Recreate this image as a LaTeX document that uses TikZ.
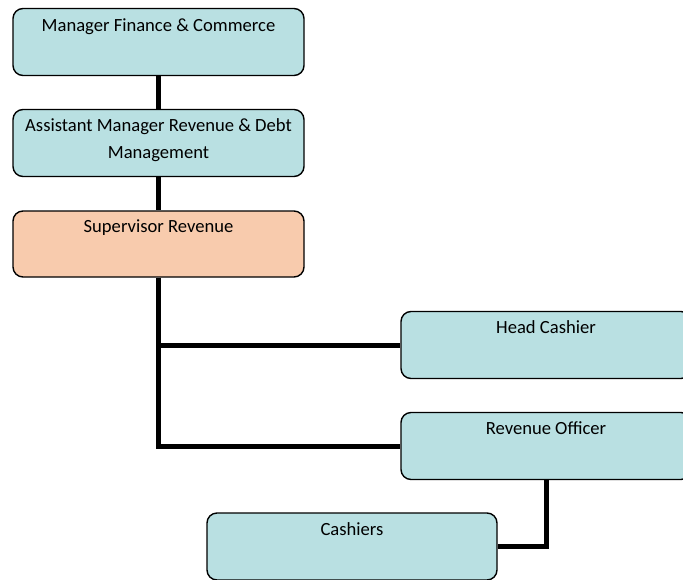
\documentclass[tikz,border=0pt]{standalone}
\usepackage{fontspec}
\setmainfont{Carlito}
\definecolor{boxblue}{HTML}{B9E0E2}
\definecolor{boxorange}{HTML}{F8CBAD}
\begin{document}
\begin{tikzpicture}[x=1pt,y=-1pt,
  box/.style={draw=black,line width=1.4pt,rounded corners=10pt,fill=boxblue,minimum height=67pt,inner sep=0pt},
  lbl/.style={anchor=base,inner sep=0pt,font=\fontsize{18.6pt}{26.5pt}\selectfont,align=center},
  conn/.style={line width=5pt}]
\useasboundingbox (0,0) rectangle (683,579);
\path[clip] (0,0) rectangle (683,579);
% boxes
\node[box,minimum width=291pt] (b1) at (158.5,42) {};
\node[box,minimum width=291pt] (b2) at (158.5,143) {};
\node[box,minimum width=291pt,fill=boxorange,minimum height=66pt] (b3) at (158.5,244) {};
\node[box,minimum width=290pt] (hc) at (546,345) {};
\node[box,minimum width=290pt] (ro) at (546,446) {};
\node[box,minimum width=290pt] (ca) at (352,546.5) {};
% connectors
\draw[conn] (b1.south) -- (b2.north);
\draw[conn] (b2.south) -- (b3.north);
\draw[conn] (b3.south) |- (hc.west);
\draw[conn] (b3.south) |- (ro.west);
\draw[conn] (ro.south) |- (ca.east);
% labels
\node[lbl] (t1) at (158.5,31) {Manager Finance \& Commerce};
\node[lbl] (t2) at (158.5,158) {Assistant Manager Revenue \& Debt\\Management};
\node[lbl] (t3) at (158.5,232) {Supervisor Revenue};
\node[lbl] (t4) at (546,333) {Head Cashier};
\node[lbl] (t5) at (546,434) {Revenue Officer};
\node[lbl] (t6) at (352,535) {Cashiers};
\end{tikzpicture}
\end{document}
